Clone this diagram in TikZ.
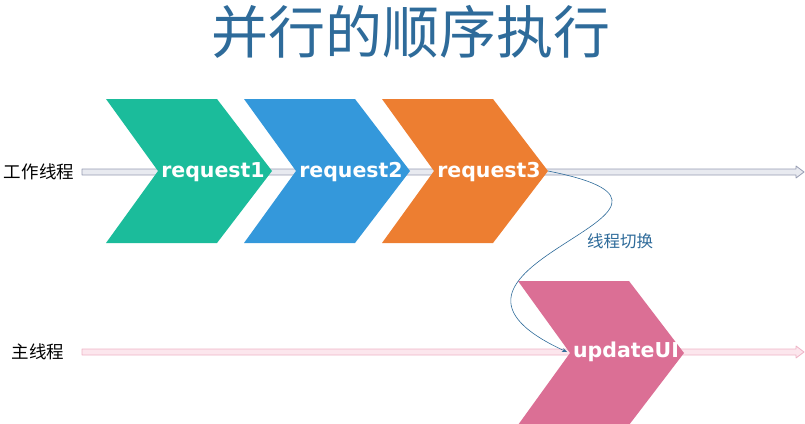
\documentclass[tikz,border=0pt]{standalone}
\usepackage{fontspec}
\setmainfont{DejaVu Sans}
\newfontfamily\cjk{Noto Sans CJK SC}
\usetikzlibrary{arrows.meta}
\definecolor{titleblue}{RGB}{46,107,154}
\definecolor{reqteal}{RGB}{27,188,155}
\definecolor{reqblue}{RGB}{52,152,219}
\definecolor{reqorange}{RGB}{237,126,49}
\definecolor{uipink}{RGB}{219,111,149}
\definecolor{workedge}{RGB}{150,156,178}
\definecolor{workfill}{RGB}{232,234,240}
\definecolor{mainedge}{RGB}{238,180,198}
\definecolor{mainfill}{RGB}{252,230,237}
\begin{document}
\begin{tikzpicture}[x=1pt, y=-1pt, line join=round,
    workline/.style={fill=workfill, draw=workedge, line width=0.8pt},
    mainline/.style={fill=mainfill, draw=mainedge, line width=0.8pt},
    chev/.style={text=white, font=\bfseries\fontsize{20.5}{20.5}\selectfont},
    lab/.style={font=\cjk\fontsize{17.5}{17.5}\selectfont}]
    \useasboundingbox (0,0) rectangle (805,423);
    
    % Title
    \node[text=titleblue, font=\cjk\fontsize{57}{57}\selectfont] (title) at (411,32) {并行的顺序执行};
    
    % Thread labels
    \node[lab] (work) at (39,172) {工作线程};
    \node[lab] (main) at (38,352) {主线程};
    
    % Thread arrows (drawn behind the chevrons)
    \draw[workline] (82,169) -- (796,169) -- (796,166) -- (804,172) -- (796,178) -- (796,175) -- (82,175) -- cycle;
    \draw[mainline] (82,349) -- (796,349) -- (796,346) -- (804,352) -- (796,358) -- (796,355) -- (82,355) -- cycle;
    
    % Requests on the work thread
    \foreach \x/\c/\t in {106/reqteal/request1, 244/reqblue/request2, 382/reqorange/request3} {
        \fill[\c] (\x,99) -- ++(111,0) -- ++(55,72) -- ++(-55,72) -- ++(-111,0) -- ++(52,-72) -- cycle;
        \node[chev] (\t) at (\x+107,172) {\t};
    }
    \coordinate (r3tip) at (548,171);
    
    % updateUI on the main thread
    \fill[uipink] (518,281) -- ++(111,0) -- ++(55,72) -- ++(-55,72) -- ++(-111,0) -- ++(52,-72) -- cycle;
    \node[chev] (updateUI) at (626,352) {updateUI};
    \coordinate (uinotch) at (567,352);
    
    % Thread switch
    \draw[-{Stealth[length=5pt, width=4pt]}, titleblue, line width=0.6pt] (r3tip) .. controls (755,212) and (378,265) .. (uinotch);
    \node[text=titleblue, font=\cjk\fontsize{16.5}{16.5}\selectfont] (switch) at (620,241) {线程切换};
\end{tikzpicture}
\end{document}
